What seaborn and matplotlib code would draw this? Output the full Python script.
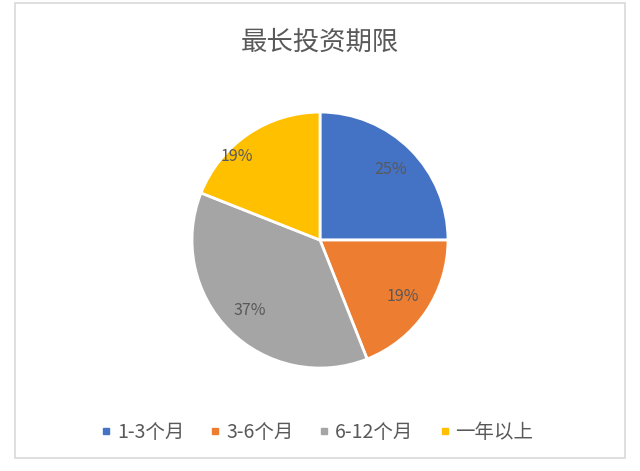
import matplotlib
matplotlib.use('Agg')
import matplotlib.pyplot as plt
import seaborn as sns
import numpy as np
from matplotlib.patches import Rectangle
from matplotlib.lines import Line2D

sns.set_theme(style='white')
plt.rcParams['font.family'] = ['Noto Sans CJK SC', 'DejaVu Sans']

# 数据
labels = ['1-3个月', '3-6个月', '6-12个月', '一年以上']
values = [25, 19, 37, 19]
colors = ['#4472C4', '#ED7D31', '#A5A5A5', '#FFC000']
text_color = '#595959'

fig = plt.figure(figsize=(6.4, 4.71), dpi=100)
fig.patch.set_facecolor('white')

# 外框
fig.patches.append(Rectangle((15 / 640, 1 - 458 / 471), 610 / 640, 455 / 471,
                             transform=fig.transFigure, fill=False,
                             edgecolor='#d9d9d9', linewidth=1.2))

ax = fig.add_axes([0.3, 0.2186, 0.4, 0.5435])
wedges, texts, autotexts = ax.pie(values, colors=colors, startangle=90, counterclock=False,
                                  autopct='%1.0f%%', pctdistance=0.78,
                                  wedgeprops=dict(edgecolor='white', linewidth=2),
                                  textprops=dict(color=text_color, fontsize=11.5))
# 最后一块标签位置偏外（类似 Excel 最佳位置）
ang = np.deg2rad(135)
autotexts[3].set_position((0.92 * np.cos(ang), 0.92 * np.sin(ang)))

ax.set_xlim(-1, 1)
ax.set_ylim(-1, 1)
ax.set_aspect('equal')
ax.axis('off')

fig.text(0.5, 1 - 42 / 471, '最长投资期限', ha='center', va='center',
         fontsize=19, color=text_color)

handles = [Line2D([0], [0], marker='s', linestyle='', markersize=5,
                  markerfacecolor=c, markeredgecolor=c) for c in colors]
fig.legend(handles, labels, loc='center', bbox_to_anchor=(0.495, 1 - 432 / 471),
           ncol=4, frameon=False, fontsize=14, handlelength=0.6, handletextpad=0.25,
           columnspacing=1.3, labelcolor=text_color)

plt.savefig('out.png', dpi=100)
